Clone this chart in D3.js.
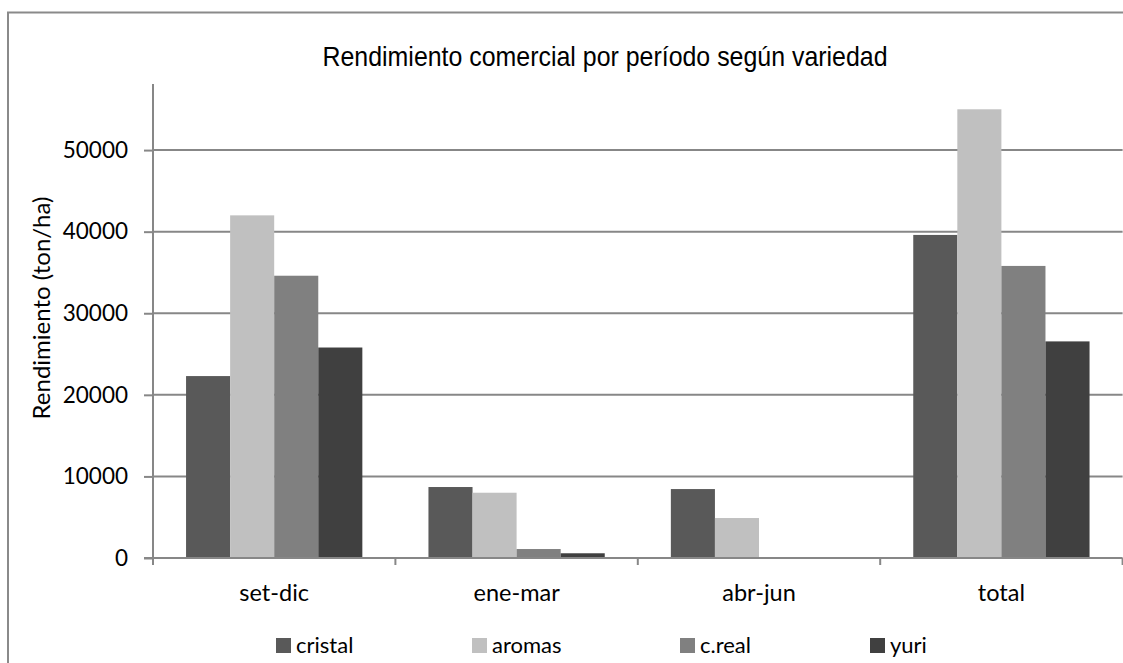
<!DOCTYPE html>
<html>
<head>
<meta charset="utf-8">
<script src="https://cdn.jsdelivr.net/npm/d3@7"></script>
<style>
  html, body { margin: 0; padding: 0; background: #fff; }
  svg { display: block; }
</style>
</head>
<body>
<svg id="chart" width="1123" height="663"></svg>
<script>
const categories = ["set-dic", "ene-mar", "abr-jun", "total"];
const seriesNames = ["cristal", "aromas", "c.real", "yuri"];
const cristal = [22300, 8700, 8450, 39600];
const aromas  = [42000, 8000, 4900, 55000];
const creal   = [34600, 1100, 0, 35800];
const yuri    = [25800, 580, 0, 26550];
const yTicks  = [0, 10000, 20000, 30000, 40000, 50000];
const yMax = 58100;
const colors = ["#595959", "#c0c0c0", "#808080", "#404040"];
const titleText = "Rendimiento comercial por período según variedad";
const yTitle = "Rendimiento (ton/ha)";

const seriesValues = [cristal, aromas, creal, yuri];
const series = seriesNames.map((n, i) => ({ name: n, values: seriesValues[i], color: colors[i] }));

const svg = d3.select("#chart");
const W = 1123, H = 663;
const plot = { left: 153, right: 1122.6, top: 84, bottom: 558 };
const axisColor = "#878787";
const font = "Lato, 'Open Sans', sans-serif";

// outer border (left and top visible)
svg.append("path")
  .attr("d", `M8,${H} L8,12.5 L${W},12.5`)
  .attr("fill", "none").attr("stroke", "#8a8a8a").attr("stroke-width", 2);

const x0 = d3.scaleBand().domain(categories).range([plot.left, plot.right]).paddingInner(0).paddingOuter(0);
// bar width: 4 bars + 150% gap
const bw = x0.bandwidth() / 5.5;
const y = d3.scaleLinear().domain([0, yMax]).range([plot.bottom, plot.top]);

// gridlines
svg.append("g").selectAll("line").data(yTicks.filter(d => d > 0)).join("line")
  .attr("x1", plot.left).attr("x2", plot.right)
  .attr("y1", d => y(d)).attr("y2", d => y(d))
  .attr("stroke", axisColor).attr("stroke-width", 2);

// bars
const gCat = svg.append("g").selectAll("g").data(categories).join("g");
gCat.each(function(cat, ci) {
  const g = d3.select(this);
  series.forEach((s, si) => {
    const v = s.values[ci];
    if (v <= 0) return;
    const xb = x0(cat) + bw * 0.75 + si * bw;
    g.append("rect")
      .attr("x", xb).attr("width", bw)
      .attr("y", y(v)).attr("height", y(0) - y(v))
      .attr("fill", s.color);
  });
});

// y axis
const yAxis = d3.axisLeft(y).tickValues(yTicks).tickSize(9).tickPadding(16).tickFormat(d3.format("d"));
const gy = svg.append("g").attr("transform", `translate(${plot.left},0)`).call(yAxis);
gy.select(".domain").remove();
gy.selectAll(".tick line").attr("stroke", axisColor).attr("stroke-width", 2);
gy.selectAll(".tick text").attr("font-family", font).attr("font-size", 22.5).attr("fill", "#000");
svg.append("line").attr("x1", plot.left).attr("x2", plot.left)
  .attr("y1", plot.top).attr("y2", plot.bottom + 1)
  .attr("stroke", axisColor).attr("stroke-width", 2);

// x axis
svg.append("line").attr("x1", plot.left - 9).attr("x2", plot.right)
  .attr("y1", plot.bottom).attr("y2", plot.bottom)
  .attr("stroke", axisColor).attr("stroke-width", 2);
const xTickPos = categories.map(c => x0(c)).concat([x0(categories[categories.length - 1]) + x0.bandwidth()]);
svg.append("g").selectAll("line").data(xTickPos).join("line")
  .attr("x1", d => d).attr("x2", d => d)
  .attr("y1", plot.bottom).attr("y2", plot.bottom + 7)
  .attr("stroke", axisColor).attr("stroke-width", 2);
svg.append("g").selectAll("text").data(categories).join("text")
  .attr("x", d => x0(d) + x0.bandwidth() / 2)
  .attr("y", 601)
  .attr("text-anchor", "middle")
  .attr("font-family", font).attr("font-size", 23.5).attr("fill", "#000")
  .text(d => d);

// y title
svg.append("text")
  .attr("transform", `translate(50,${308}) rotate(-90)`)
  .attr("text-anchor", "middle")
  .attr("font-family", font).attr("font-size", 24).attr("fill", "#000")
  .text(yTitle);

// title
svg.append("text")
  .attr("x", 322.5).attr("y", 66)
  .attr("textLength", 565).attr("lengthAdjust", "spacingAndGlyphs")
  .attr("font-family", "'Liberation Sans Narrow', 'Liberation Sans', Arial, sans-serif")
  .attr("font-size", 28).attr("fill", "#000")
  .text(titleText);

// legend
const legendX = [276, 472, 680, 870];
const lg = svg.append("g").selectAll("g").data(series).join("g")
  .attr("transform", (d, i) => `translate(${legendX[i]},0)`);
lg.append("rect").attr("x", 0).attr("y", 638).attr("width", 15).attr("height", 15).attr("fill", d => d.color);
lg.append("text").attr("x", 20).attr("y", 653)
  .attr("font-family", font).attr("font-size", 22).attr("fill", "#000")
  .text(d => d.name);
</script>
</body>
</html>
